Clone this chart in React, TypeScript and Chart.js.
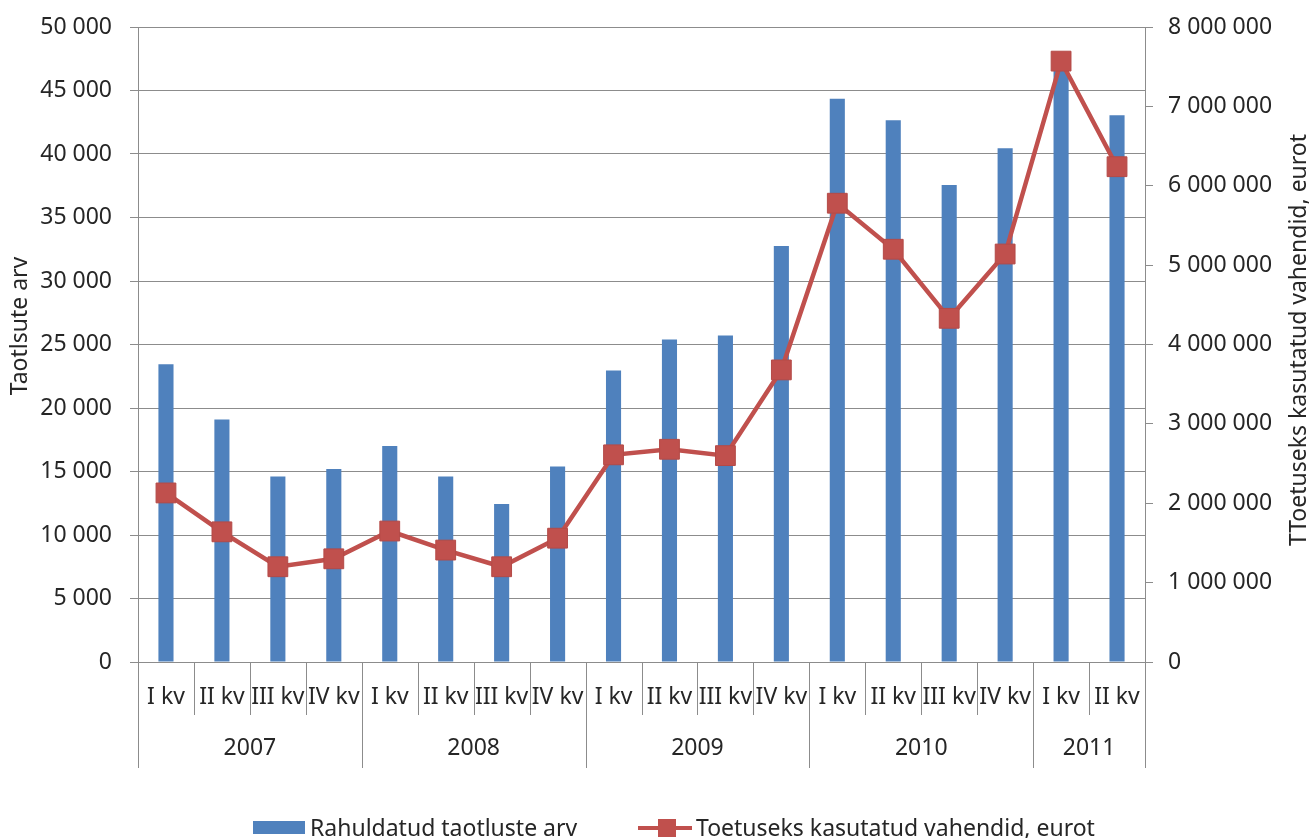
import React, { useEffect, useRef } from "react";
import { Chart, registerables } from "chart.js";

Chart.register(...registerables);

const quarters = [
  "I kv", "II kv", "III kv", "IV kv",
  "I kv", "II kv", "III kv", "IV kv",
  "I kv", "II kv", "III kv", "IV kv",
  "I kv", "II kv", "III kv", "IV kv",
  "I kv", "II kv",
];
const years = ["2007", "2008", "2009", "2010", "2011"];
const quartersPerYear = [4, 4, 4, 4, 2];

const applications = [
  23450, 19100, 14600, 15200,
  17000, 14600, 12450, 15400,
  22950, 25400, 25700, 32750,
  44350, 42650, 37550, 40450,
  47300, 43050,
];
const fundsEuro = [
  2130000, 1640000, 1200000, 1300000,
  1650000, 1410000, 1200000, 1560000,
  2610000, 2680000, 2600000, 3680000,
  5780000, 5200000, 4330000, 5140000,
  7570000, 6240000,
];

const barLabel = "Rahuldatud taotluste arv";
const lineLabel = "Toetuseks kasutatud vahendid, eurot";
const leftTitle = "Taotlsute arv";
const rightTitle = "TToetuseks kasutatud vahendid, eurot";

const FONT = "Noto Sans";
const FS = 23;
const TEXT = "#262626";
const GRID = "#8c8c8c";
const BLUE = "#4F81BD";
const RED = "#C0504D";

const fmt = (v: number) =>
  Math.round(v).toString().replace(/\B(?=(\d{3})+(?!\d))/g, " ");

const extrasPlugin = {
  id: "extras",
  afterDraw(chart: any) {
    const ctx = chart.ctx as CanvasRenderingContext2D;
    const x = chart.scales.x;
    const area = chart.chartArea;
    const w = x.getPixelForValue(1) - x.getPixelForValue(0);
    const bound = (i: number) => x.getPixelForValue(i) - w / 2;
    const base = area.bottom;
    ctx.save();
    ctx.strokeStyle = GRID;
    ctx.lineWidth = 1;
    const yearBounds: number[] = [0];
    let acc = 0;
    quartersPerYear.forEach((n) => {
      acc += n;
      yearBounds.push(acc);
    });
    for (let i = 0; i <= quarters.length; i++) {
      const isYear = yearBounds.includes(i);
      const px = Math.round(bound(i)) + 0.5;
      ctx.beginPath();
      ctx.moveTo(px, base);
      ctx.lineTo(px, base + (isYear ? 106 : 53));
      ctx.stroke();
    }
    ctx.fillStyle = TEXT;
    ctx.font = `${FS}px "${FONT}"`;
    ctx.textAlign = "center";
    ctx.textBaseline = "middle";
    quarters.forEach((q, i) => {
      ctx.fillText(q, x.getPixelForValue(i), base + 35);
    });
    years.forEach((y, k) => {
      const c = (bound(yearBounds[k]) + bound(yearBounds[k + 1])) / 2;
      ctx.fillText(y, c, base + 86);
    });
    ctx.save();
    ctx.translate(20, 326);
    ctx.rotate(-Math.PI / 2);
    ctx.fillText(leftTitle, 0, 0);
    ctx.restore();
    ctx.save();
    ctx.translate(1299, 340);
    ctx.rotate(-Math.PI / 2);
    ctx.fillText(rightTitle, 0, 0);
    ctx.restore();
    ctx.fillStyle = BLUE;
    ctx.fillRect(253, 821, 52, 13);
    ctx.fillStyle = TEXT;
    ctx.textAlign = "left";
    ctx.textBaseline = "alphabetic";
    ctx.fillText(barLabel, 310, 836);
    ctx.strokeStyle = RED;
    ctx.lineWidth = 4;
    ctx.beginPath();
    ctx.moveTo(638, 828);
    ctx.lineTo(692, 828);
    ctx.stroke();
    ctx.fillStyle = RED;
    ctx.fillRect(658, 819, 18, 18);
    ctx.fillStyle = TEXT;
    ctx.fillText(lineLabel, 696, 836);
    ctx.restore();
  },
};

export default function App() {
  const ref = useRef<HTMLCanvasElement | null>(null);
  useEffect(() => {
    if (!ref.current) return;
    const chart = new Chart(ref.current, {
      type: "bar",
      data: {
        labels: quarters,
        datasets: [
          {
            type: "line",
            label: lineLabel,
            data: fundsEuro,
            yAxisID: "y1",
            borderColor: RED,
            borderWidth: 4.5,
            pointStyle: "rect",
            pointRadius: 14,
            pointBackgroundColor: RED,
            pointBorderColor: "#B44A47",
            pointBorderWidth: 1,
            order: 1,
          } as any,
          {
            type: "bar",
            label: barLabel,
            data: applications,
            yAxisID: "y",
            backgroundColor: BLUE,
            categoryPercentage: 1,
            barPercentage: 0.27,
            order: 2,
          },
        ],
      },
      options: {
        responsive: false,
        animation: false,
        devicePixelRatio: 1,
        layout: { padding: { left: 0, right: 0, top: 27, bottom: 176 } },
        plugins: {
          legend: { display: false },
          tooltip: { enabled: false },
        },
        scales: {
          x: { display: false, offset: true },
          y: {
            position: "left",
            min: 0,
            max: 50000,
            afterFit: (s: any) => {
              s.width = 138;
              s.paddingTop = 0;
              s.paddingBottom = 0;
            },
            ticks: {
              stepSize: 5000,
              padding: 18,
              color: TEXT,
              font: { family: FONT, size: FS },
              callback: (v: any) => fmt(Number(v)),
            },
            grid: { color: GRID, tickLength: 8, lineWidth: 1 },
            border: { color: GRID },
          },
          y1: {
            position: "right",
            min: 0,
            max: 8000000,
            afterFit: (s: any) => {
              s.width = 168;
              s.paddingTop = 0;
              s.paddingBottom = 0;
            },
            ticks: {
              stepSize: 1000000,
              padding: 15,
              color: TEXT,
              font: { family: FONT, size: FS },
              callback: (v: any) => fmt(Number(v)),
            },
            grid: { drawOnChartArea: false, color: GRID, tickLength: 8 },
            border: { color: GRID },
          },
        },
      },
      plugins: [extrasPlugin],
    });
    return () => chart.destroy();
  }, []);
  return (
    <div style={{ position: "absolute", left: 0, top: 0, width: 1313, height: 838, background: "#fff" }}>
      <canvas ref={ref} width={1313} height={838} style={{ display: "block" }} />
    </div>
  );
}
